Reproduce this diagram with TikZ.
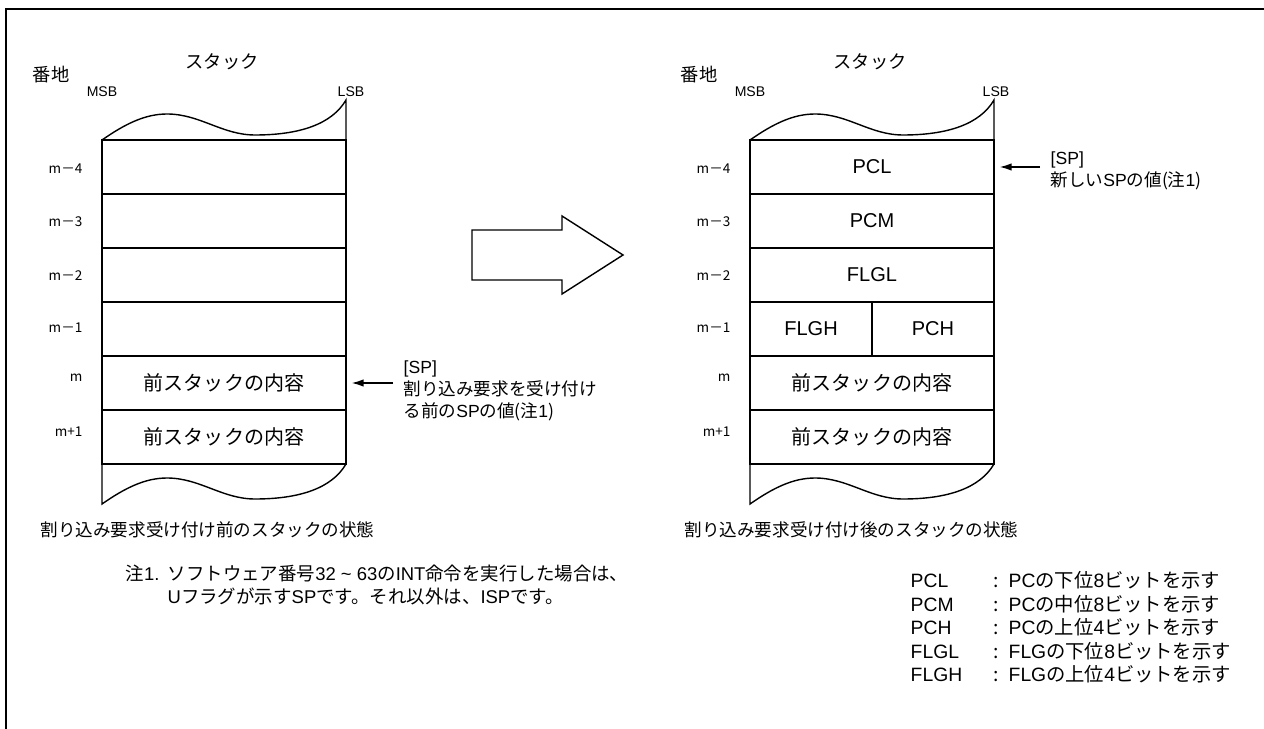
\documentclass[tikz,border=0pt]{standalone}
\usepackage{fontspec}
\setmainfont{Noto Sans CJK JP}
\newfontfamily\latinfont{Liberation Sans}
\usetikzlibrary{arrows.meta}

\begin{document}
\begin{tikzpicture}[
  x=0.02cm, y=-0.02cm,
  line width=0.8pt,
  cell/.style={rectangle, draw, minimum width=4.88cm, minimum height=1.08cm,
               inner sep=0pt, font=\fontsize{11.4}{13}\selectfont},
  halfcell/.style={cell, minimum width=2.44cm},
  addr/.style={anchor=east, inner sep=0pt, font=\fontsize{7.7}{9}\selectfont},
  bitlbl/.style={inner sep=0pt, font=\latinfont\fontsize{8}{9}\selectfont},
  head/.style={inner sep=0pt, font=\fontsize{10.4}{12}\selectfont},
  caption/.style={anchor=west, inner sep=0pt, font=\fontsize{10}{12}\selectfont},
  note/.style={anchor=west, inner sep=0pt, align=left, font=\fontsize{10.5}{13.1}\selectfont},
  sptext/.style={anchor=west, inner ysep=0pt, inner xsep=0.2cm, align=left,
                 font=\fontsize{10}{12.5}\selectfont},
  ptr/.style={-{Latex[length=2.4mm,width=1.5mm]}, shorten >=0.1cm}
]
  \useasboundingbox (0,0) rectangle (1264,729);
  \draw[line width=1.7pt] (6,729) -- (6,9) -- (1264,9);

  % stack before the interrupt
  \node[head]   (addrL)  at (51,75)   {番地};
  \node[head]   (titleL) at (222,62)  {スタック};
  \node[bitlbl] (msbL)   at (102,92)  {MSB};
  \node[bitlbl] (lsbL)   at (351,92)  {LSB};

  \node[cell] (lm4)  at (224,167) {};
  \node[cell] (lm3)  at (224,221) {};
  \node[cell] (lm2)  at (224,275) {};
  \node[cell] (lm1)  at (224,329) {};
  \node[cell] (lm)   at (224,383) {前スタックの内容};
  \node[cell] (lmp1) at (224,437) {前スタックの内容};

  \node[addr] (al4) at (83,169) {m－4};
  \node[addr] (al3) at (83,222) {m－3};
  \node[addr] (al2) at (83,276) {m－2};
  \node[addr] (al1) at (83,328) {m－1};
  \node[addr] (al0) at (83,378) {m};
  \node[addr] (alp) at (83,432) {m+1};

  \node[sptext] (spL) at (393,391) {{\latinfont [SP]}\\割り込み要求を受け付け\\る前の{\latinfont SP}の値(注{\latinfont 1})};
  \draw[ptr] (spL.west |- lm.east) -- (lm.east);

  \node[caption] (capL) at (40,530) {割り込み要求受け付け前のスタックの状態};

  % stack after the interrupt
  \node[head]   (addrR)  at (699,75)  {番地};
  \node[head]   (titleR) at (870,62)  {スタック};
  \node[bitlbl] (msbR)   at (750,92)  {MSB};
  \node[bitlbl] (lsbR)   at (996,92)  {LSB};

  \node[cell] (rm4)  at (872,167) {\latinfont PCL};
  \node[cell] (rm3)  at (872,221) {\latinfont PCM};
  \node[cell] (rm2)  at (872,275) {\latinfont FLGL};
  \node[halfcell] (rflgh) at (811,329) {\latinfont FLGH};
  \node[halfcell] (rpch)  at (933,329) {\latinfont PCH};
  \node[cell] (rm)   at (872,383) {前スタックの内容};
  \node[cell] (rmp1) at (872,437) {前スタックの内容};

  \node[addr] (ar4) at (731,169) {m－4};
  \node[addr] (ar3) at (731,222) {m－3};
  \node[addr] (ar2) at (731,276) {m－2};
  \node[addr] (ar1) at (731,328) {m－1};
  \node[addr] (ar0) at (731,378) {m};
  \node[addr] (arp) at (731,432) {m+1};

  \node[sptext] (spR) at (1040,171) {{\latinfont [SP]}\\新しい{\latinfont SP}の値(注{\latinfont 1})};
  \draw[ptr] (spR.west |- rm4.east) -- (rm4.east);

  \node[caption] (capR) at (684,530) {割り込み要求受け付け後のスタックの状態};

  % torn ends of both stacks
  \foreach \dx in {0,648} {
    \draw[shift={(\dx,0)}] (102,140) .. controls (125,124) and (145,114) .. (167,114)
      .. controls (200,114) and (222,135) .. (255,135)
      .. controls (300,135) and (332,124) .. (346,100) -- (346,140);
    \draw[shift={(\dx,0)}] (102,464) -- (102,504) .. controls (125,488) and (145,478) .. (167,478)
      .. controls (200,478) and (222,499) .. (255,499)
      .. controls (300,499) and (332,488) .. (346,464);
  }

  % big arrow
  \draw (472,230) -- (562,230) -- (562,216) -- (623,255) -- (562,294)
    -- (562,280) -- (472,280) -- cycle;

  \node[note] (fn1) at (125,587) {\begin{tabular}{@{}p{0.84cm}@{}l@{}}
    注{\latinfont 1.} & ソフトウェア番号{\latinfont 32 \textasciitilde\ 63}の{\latinfont INT}命令を実行した場合は、\\
         & {\latinfont U}フラグが示す{\latinfont SP}です。それ以外は、{\latinfont ISP}です。
  \end{tabular}};

  \node[note, font=\fontsize{11}{13.4}\selectfont] (legend) at (910,630) {%
  \begin{tabular}{@{}p{1.66cm}@{}p{0.3cm}@{}l@{}}
    \latinfont PCL  & : & {\latinfont PC}の下位{\latinfont 8}ビットを示す\\
    \latinfont PCM  & : & {\latinfont PC}の中位{\latinfont 8}ビットを示す\\
    \latinfont PCH  & : & {\latinfont PC}の上位{\latinfont 4}ビットを示す\\
    \latinfont FLGL & : & {\latinfont FLG}の下位{\latinfont 8}ビットを示す\\
    \latinfont FLGH & : & {\latinfont FLG}の上位{\latinfont 4}ビットを示す
  \end{tabular}};
\end{tikzpicture}
\end{document}
